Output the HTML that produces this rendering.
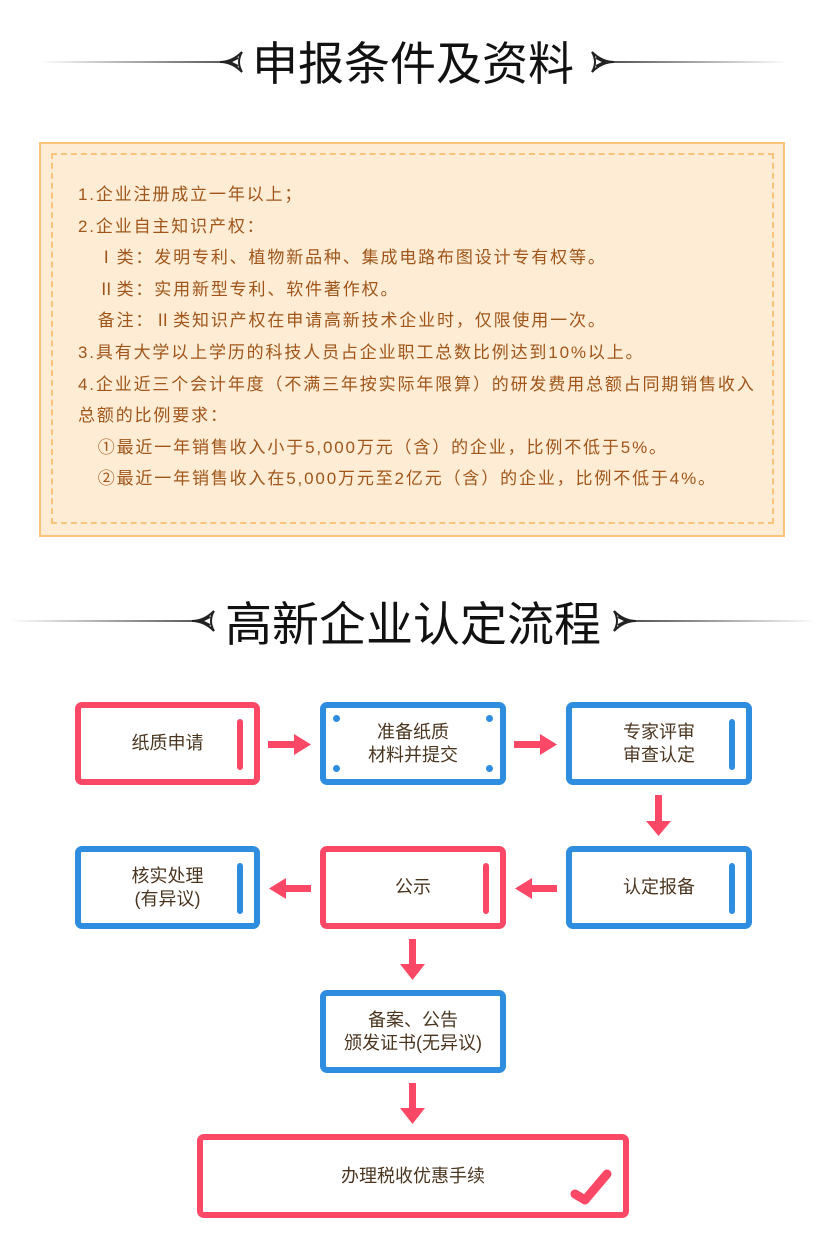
<!DOCTYPE html>
<html><head><meta charset="utf-8">
<style>
*{margin:0;padding:0;box-sizing:border-box}
body{width:826px;height:1248px;background:#fff;position:relative;font-family:"Liberation Sans","Noto Sans CJK SC",sans-serif;overflow:hidden}
.abs{position:absolute}
.title{position:absolute;left:0;width:826px;text-align:center;color:#111;font-family:"Noto Sans CJK SC","WenQuanYi Zen Hei",sans-serif;white-space:nowrap}
.lineL{position:absolute;height:2px;background:linear-gradient(to right,rgba(120,120,120,0),#555)}
.lineR{position:absolute;height:2px;background:linear-gradient(to left,rgba(120,120,120,0),#555)}
.box{position:absolute;border:6px solid;border-radius:7px;background:#fff;display:flex;align-items:center;justify-content:center;text-align:center;color:#4a3520;font-size:18px;line-height:23px}
.r{border-color:#fc4867}.b{border-color:#2f8de0}
.bar{position:absolute;width:6px;height:51px;border-radius:3px;right:11px;top:11px}
.r .bar{background:#fc4867}.b .bar{background:#2f8de0}
.dot{position:absolute;width:7px;height:7px;border-radius:50%;background:#2f8de0}
.txt{position:absolute;left:78px;color:#a0561a;font-size:17px;letter-spacing:1.85px;line-height:31.6px;top:179px;white-space:nowrap}
</style></head><body>
<div class="lineL" style="left:40px;top:61px;width:190px"></div>
<div class="lineR" style="left:612px;top:61px;width:175px"></div>
<svg class="abs" style="left:218px;top:50px" width="26" height="24"><path d="M24 2 Q14 12 2 12 Q14 12 24 22 Q18 12 24 2Z M20 8 L12 12 L20 16" fill="none" stroke="#222" stroke-width="2"/></svg>
<svg class="abs" style="left:590px;top:50px" width="26" height="24"><path d="M2 2 Q12 12 24 12 Q12 12 2 22 Q8 12 2 2Z M6 8 L14 12 L6 16" fill="none" stroke="#222" stroke-width="2"/></svg>
<div class="title" style="top:32px;font-size:46px;line-height:58px;">申报条件及资料</div>

<div class="abs" style="left:39px;top:142px;width:746px;height:395px;background:#feecd5;border:2px solid #fbc47c"></div>
<div class="abs" style="left:51px;top:153px;width:723px;height:371px;border:2px dashed #fbc47c"></div>
<div class="txt">
1.企业注册成立一年以上；<br>
2.企业自主知识产权：<br>
&nbsp;&nbsp;&nbsp;Ⅰ类：发明专利、植物新品种、集成电路布图设计专有权等。<br>
&nbsp;&nbsp;&nbsp;Ⅱ类：实用新型专利、软件著作权。<br>
&nbsp;&nbsp;&nbsp;备注：Ⅱ类知识产权在申请高新技术企业时，仅限使用一次。<br>
3.具有大学以上学历的科技人员占企业职工总数比例达到10%以上。<br>
4.企业近三个会计年度（不满三年按实际年限算）的研发费用总额占同期销售收入<br>
总额的比例要求：<br>
&nbsp;&nbsp;&nbsp;①最近一年销售收入小于5,000万元（含）的企业，比例不低于5%。<br>
&nbsp;&nbsp;&nbsp;②最近一年销售收入在5,000万元至2亿元（含）的企业，比例不低于4%。
</div>

<div class="lineL" style="left:10px;top:620px;width:192px"></div>
<div class="lineR" style="left:636px;top:620px;width:180px"></div>
<svg class="abs" style="left:190px;top:609px" width="26" height="24"><path d="M24 2 Q14 12 2 12 Q14 12 24 22 Q18 12 24 2Z M20 8 L12 12 L20 16" fill="none" stroke="#222" stroke-width="2"/></svg>
<svg class="abs" style="left:612px;top:609px" width="26" height="24"><path d="M2 2 Q12 12 24 12 Q12 12 2 22 Q8 12 2 2Z M6 8 L14 12 L6 16" fill="none" stroke="#222" stroke-width="2"/></svg>
<div class="title" style="top:592px;font-size:47px;line-height:58px;">高新企业认定流程</div>

<div class="box r" style="left:75px;top:702px;width:185px;height:83px">纸质申请<div class="bar"></div></div>
<div class="box b" style="left:320px;top:702px;width:186px;height:83px">准备纸质<br>材料并提交
<div class="dot" style="left:7px;top:7px"></div><div class="dot" style="right:7px;top:7px"></div>
<div class="dot" style="left:7px;bottom:7px"></div><div class="dot" style="right:7px;bottom:7px"></div></div>
<div class="box b" style="left:566px;top:702px;width:186px;height:83px">专家评审<br>审查认定<div class="bar"></div></div>

<div class="box b" style="left:75px;top:846px;width:185px;height:83px">核实处理<br>(有异议)<div class="bar"></div></div>
<div class="box r" style="left:320px;top:846px;width:186px;height:83px">公示<div class="bar"></div></div>
<div class="box b" style="left:566px;top:846px;width:186px;height:83px">认定报备<div class="bar"></div></div>

<div class="box b" style="left:320px;top:990px;width:186px;height:83px">备案、公告<br>颁发证书(无异议)</div>
<div class="box r" style="left:197px;top:1134px;width:432px;height:84px">办理税收优惠手续
<svg class="abs" style="right:10px;bottom:6px" width="44" height="38"><path d="M6 26 L16 32 L38 6" fill="none" stroke="#fc4867" stroke-width="9" stroke-linecap="round" stroke-linejoin="round"/></svg></div>

<svg class="abs" style="left:0;top:0" width="826" height="1248">
<g fill="#fc4867">
<rect x="268" y="741" width="28" height="7"/><polygon points="294,734 311,744.5 294,755"/>
<rect x="514" y="741" width="28" height="7"/><polygon points="540,734 557,744.5 540,755"/>
<rect x="655" y="795" width="7" height="28"/><polygon points="646,821 671,821 658.5,836"/>
<rect x="284" y="885" width="27" height="7"/><polygon points="286,878 269,888.5 286,899"/>
<rect x="530" y="885" width="27" height="7"/><polygon points="532,878 515,888.5 532,899"/>
<rect x="409" y="939" width="7" height="27"/><polygon points="400,964 425,964 412.5,980"/>
<rect x="409" y="1083" width="7" height="27"/><polygon points="400,1108 425,1108 412.5,1124"/>
</g></svg>
</body></html>
